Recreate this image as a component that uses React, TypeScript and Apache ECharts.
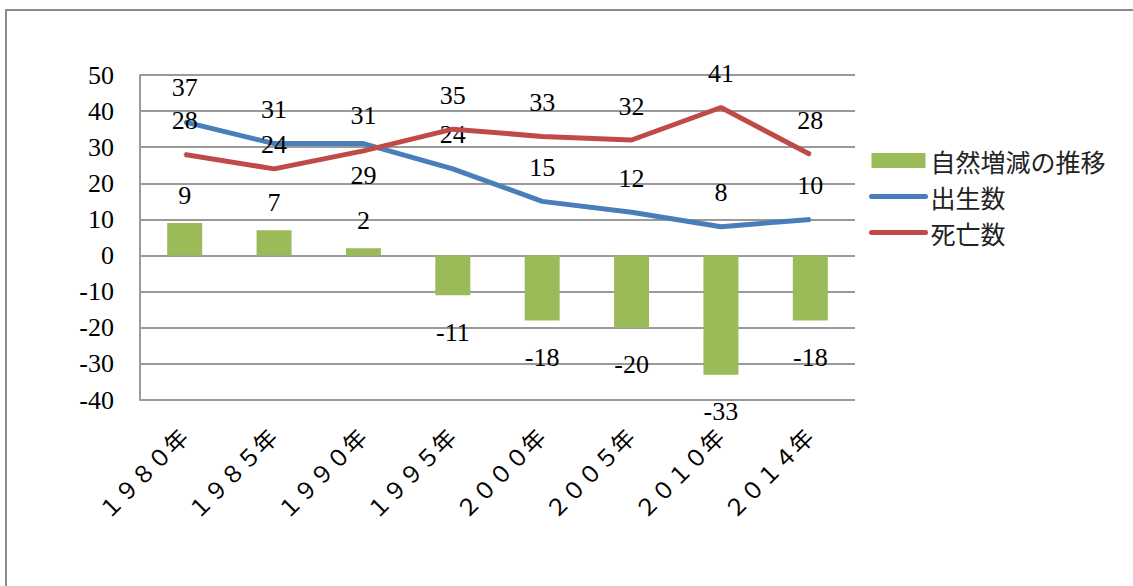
import React, { useEffect, useRef } from "react";
import * as echarts from "echarts";

const categories = ["１９８０年", "１９８５年", "１９９０年", "１９９５年", "２０００年", "２００５年", "２０１０年", "２０１４年"];
const naturalChange = [9, 7, 2, -11, -18, -20, -33, -18];
const births = [37, 31, 31, 24, 15, 12, 8, 10];
const deaths = [28, 24, 29, 35, 33, 32, 41, 28];
const yTicks = { min: -40, max: 50, interval: 10 };

const NUM_FONT = '"Liberation Serif", "DejaVu Serif", serif';
const CJK_FONT = '"Noto Sans CJK JP", "Noto Sans", sans-serif';

const BLUE = "#4A7EBB";
const RED = "#BE4B48";
const GREEN = "#9BBB59";

export default function App() {
  const ref = useRef<HTMLDivElement>(null);
  useEffect(() => {
    if (!ref.current) return;
    const chart = echarts.init(ref.current, undefined, { renderer: "svg" });
    const labelBase = { show: true, color: "#000", fontFamily: NUM_FONT, fontSize: 26 };
    const hiddenDot = { color: "rgba(0,0,0,0)", borderWidth: 0, opacity: 0 };
    chart.setOption({
      animation: false,
      backgroundColor: "#fff",
      graphic: [
        {
          type: "rect",
          shape: { x: 6, y: 10, width: 1200, height: 700 },
          style: { fill: "none", stroke: "#8c8c8c", lineWidth: 2 },
          silent: true,
        },
      ],
      grid: { left: 140, top: 75, width: 715, height: 325, containLabel: false },
      legend: {
        orient: "vertical",
        left: 864,
        top: 143,
        itemWidth: 54,
        itemHeight: 15,
        itemGap: 11,
        textStyle: { fontFamily: CJK_FONT, fontSize: 25, color: "#222" },
        data: [
          { name: "自然増減の推移", icon: "rect" },
          { name: "出生数", itemStyle: hiddenDot, lineStyle: { width: 5, color: BLUE, cap: "round" } },
          { name: "死亡数", itemStyle: hiddenDot, lineStyle: { width: 5, color: RED, cap: "round" } },
        ],
      },
      xAxis: {
        type: "category",
        data: categories,
        boundaryGap: true,
        axisLine: { show: false },
        axisTick: { show: false },
        axisLabel: {
          rotate: 45,
          margin: 34,
          interval: 0,
          color: "#000",
          fontSize: 23,
          fontFamily: '"Liberation Serif", "Noto Sans CJK JP", serif',
        },
      },
      yAxis: {
        type: "value",
        min: yTicks.min,
        max: yTicks.max,
        interval: yTicks.interval,
        axisLine: { show: true, lineStyle: { color: "#9a9a9a", width: 2 } },
        axisTick: { show: false },
        splitLine: { show: true, lineStyle: { color: "#9a9a9a", width: 2 } },
        axisLabel: { color: "#000", fontSize: 26, fontFamily: NUM_FONT, margin: 26 },
      },
      series: [
        {
          name: "自然増減の推移",
          type: "bar",
          barWidth: 35,
          itemStyle: { color: GREEN },
          data: naturalChange.map((v) => ({
            value: v,
            label: { distance: v >= 0 ? 15 : 24 },
          })),
          label: { ...labelBase, position: "outside" },
          z: 1,
        },
        {
          name: "出生数",
          type: "line",
          symbol: "circle",
          symbolSize: 2,
          showSymbol: true,
          lineStyle: { color: BLUE, width: 5 },
          itemStyle: { color: BLUE },
          data: births.map((v, i) => ({
            value: v,
            label: { distance: i === 2 ? 14 : 20 },
          })),
          label: { ...labelBase, position: "top" },
          z: 3,
        },
        {
          name: "死亡数",
          type: "line",
          symbol: "circle",
          symbolSize: 2,
          showSymbol: true,
          lineStyle: { color: RED, width: 5 },
          itemStyle: { color: RED },
          data: deaths.map((v, i) =>
            i === 2
              ? { value: v, label: { position: "bottom", distance: 11 } }
              : { value: v, label: { distance: i === 1 ? 10 : 20 } }
          ),
          label: { ...labelBase, position: "top" },
          z: 4,
        },
      ],
    });
    return () => chart.dispose();
  }, []);
  return (
    <div
      ref={ref}
      style={{ position: "absolute", left: 0, top: 0, width: 1133, height: 586 }}
    />
  );
}
